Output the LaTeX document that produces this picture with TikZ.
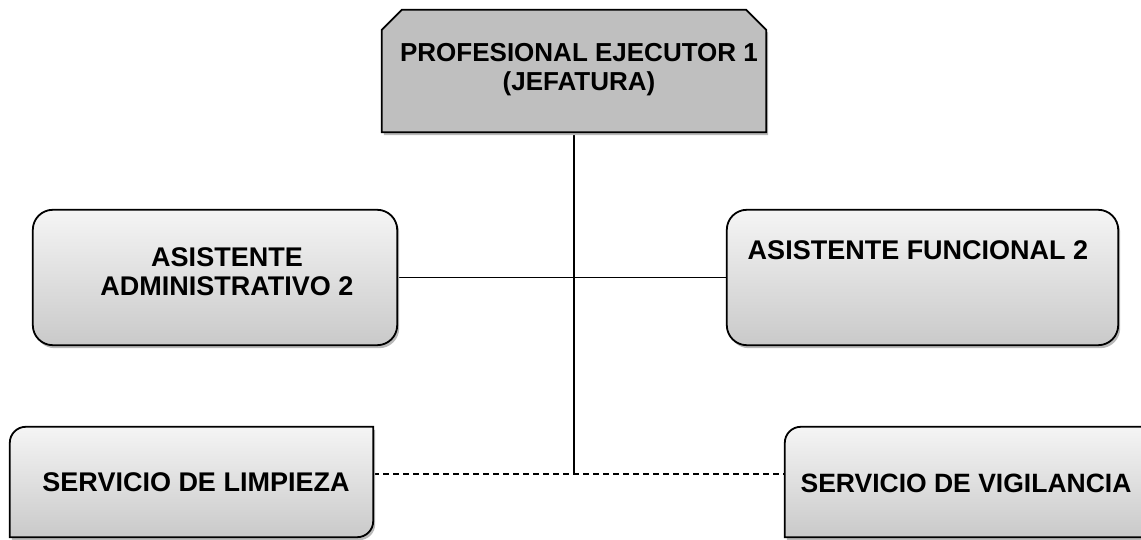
\documentclass[tikz,border=0pt]{standalone}
\usepackage{fontspec}
\setmainfont{Liberation Sans}
\usetikzlibrary{shadows}
\begin{document}
\begin{tikzpicture}[x=1pt,y=1pt,
  box/.style={rectangle, draw=none, inner sep=0pt},
  lbl/.style={font=\bfseries\fontsize{27}{29}\selectfont, align=center, inner sep=0pt},
  outline/.style={draw=black, line width=1.8pt,
    drop shadow={shadow xshift=2pt, shadow yshift=-3pt, fill=gray!55, opacity=1}},
  light/.style={top color=gray!8, bottom color=gray!42},
  link/.style={line width=1.8pt}]
\useasboundingbox (0,0) rectangle (1141,540);
\clip (0,0) rectangle (1141,540);
\fill[white] (0,0) rectangle (1141,540);
% box frames
\node[box, minimum width=384pt, minimum height=122pt] (jefe) at (574,469) {};
\node[box, minimum width=364pt, minimum height=135pt] (adm) at (215,262.5) {};
\node[box, minimum width=391pt, minimum height=135pt] (fun) at (922.5,262.5) {};
\node[box, minimum width=363pt, minimum height=110pt] (limp) at (191.5,58) {};
\node[box, minimum width=375pt, minimum height=110pt] (vig) at (972.5,58) {};
% connectors
\coordinate (dl) at ([yshift=8pt]limp.east);
\coordinate (dr) at ([yshift=8pt]vig.west);
\draw[link] (jefe.south) -- (jefe.south |- dl);
\draw[link] (adm.east) -- (fun.west);
\draw[link, dash pattern=on 6pt off 4pt] (dl) -- (dr);
% shapes
\path[outline, fill=gray!50]
  (jefe.south west) -- ([yshift=-20pt]jefe.north west) -- ([xshift=20pt]jefe.north west)
  -- ([xshift=-20pt]jefe.north east) -- ([yshift=-20pt]jefe.north east) -- (jefe.south east) -- cycle;
\path[outline, light, rounded corners=20pt] (adm.south west) rectangle (adm.north east);
\path[outline, light, rounded corners=20pt] (fun.south west) rectangle (fun.north east);
\path[outline, light]
  (limp.south west) -- ([yshift=-16pt]limp.north west) arc[start angle=180, end angle=90, radius=16pt]
  -- (limp.north east) -- ([yshift=16pt]limp.south east) arc[start angle=0, end angle=-90, radius=16pt] -- cycle;
\path[outline, light]
  (vig.south west) -- ([yshift=-16pt]vig.north west) arc[start angle=180, end angle=90, radius=16pt]
  -- (vig.north east) -- ([yshift=16pt]vig.south east) arc[start angle=0, end angle=-90, radius=16pt] -- cycle;
% labels
\node[lbl, font=\bfseries\fontsize{26}{29}\selectfont] (tjefe) at (579,470) {PROFESIONAL EJECUTOR 1\\(JEFATURA)};
\node[lbl] (tadm) at (227,268) {ASISTENTE\\ADMINISTRATIVO 2};
\node[lbl] (tfun) at (918,290) {ASISTENTE FUNCIONAL 2};
\node[lbl] (tlimp) at (196,58) {SERVICIO DE LIMPIEZA};
\node[lbl, font=\bfseries\fontsize{26.5}{29}\selectfont] (tvig) at (966,57) {SERVICIO DE VIGILANCIA};
\end{tikzpicture}
\end{document}
